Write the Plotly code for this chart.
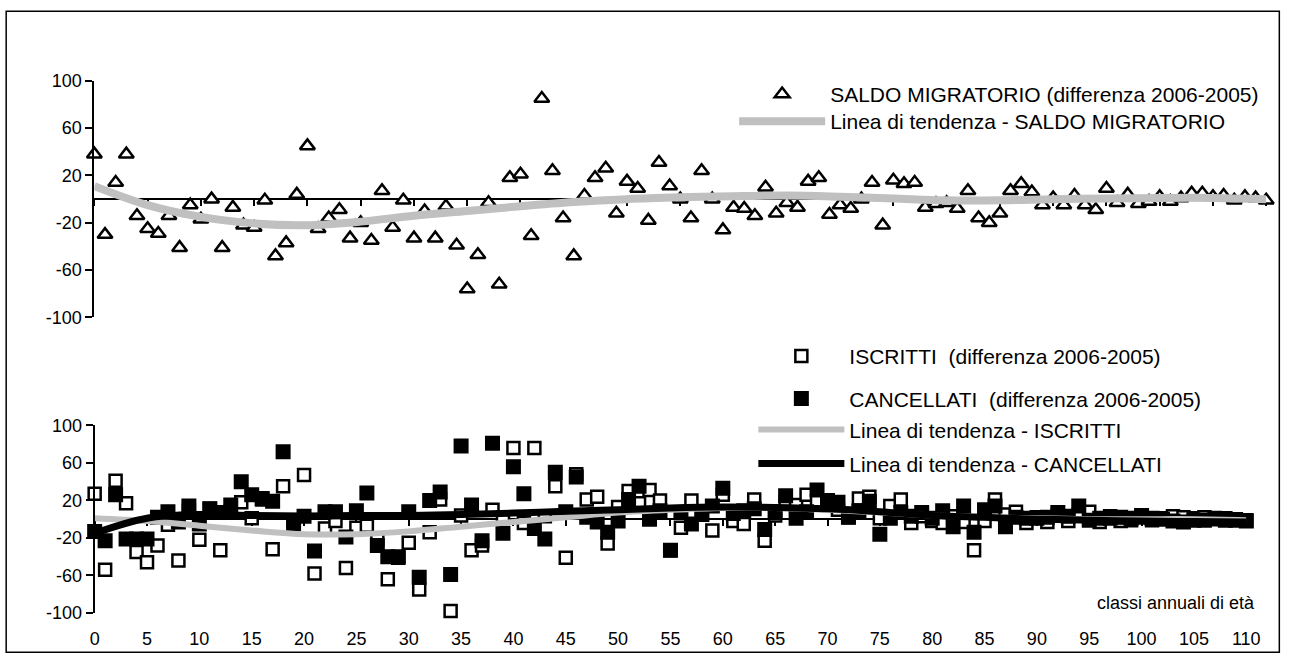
import plotly.graph_objects as go

# Figure fills the whole 1295 x 664 window (the plot div is pinned at 0,0).
W, H = 1295, 664

# ---------------- data ----------------
ages = list(range(0, 111))

saldo = [38, -30, 14, 38, -14, -25, -29, -14, -41, -5,
         -17, 0, -41, -7, -22, -24, -1, -48, -37, 4,
         45, -25, -16, -9, -33, -20, -35, 7, -24, -1,
         -33, -10, -33, -6, -39, -76, -47, -3, -72, 18,
         21, -31, 85, 24, -16, -48, 3, 18, 26, -12,
         15, 9, -18, 31, 11, 0, -16, 24, 0, -26,
         -7, -8, -14, 10, -12, -3, -7, 15, 18, -13,
         -5, -8, 0, 14, -22, 16, 13, 14, -7, -4,
         -3, -8, 7, -16, -20, -12, 7, 13, 6, -5,
         1, -5, 3, -5, -9, 9, -3, 4, -4, -2,
         2, -2, 1, 5, 5, 2, 3, -1, 2, 1,
         -1]

iscritti = [27, -54, 41, 17, -35, -46, -28, -6, -44, 9,
            -22, 11, -33, 8, 18, 1, 21, -32, 35, -1,
            47, -58, -10, -2, -52, -9, -7, -21, -64, -41,
            -25, -75, -14, 21, -98, 4, -33, -28, 10, 2,
            76, -4, 76, 3, 35, -41, 48, 21, 24, -26,
            13, 30, 17, 31, 20, -33, -9, 20, 5, -12,
            26, -2, -5, 21, -23, 4, 18, 15, 26, 19,
            15, 10, 2, 22, 24, 1, 14, 21, -4, 3,
            -2, -4, 3, -3, -33, -2, 21, 5, 8, -4,
            2, -3, 4, -2, 5, 8, -3, 3, -2, -1,
            2, -1, 1, 3, 2, 1, 2, 0, 1, 0,
            -1]

cancellati = [-13, -23, 26, -21, -21, -21, 2, 8, -3, 14,
              -5, 11, 7, 15, 40, 26, 22, 19, 72, -5,
              3, -34, 8, 8, -19, 9, 28, -28, -40, -40,
              8, -62, 20, 29, -59, 78, 15, -23, 81, -15,
              56, 27, -10, -21, 50, 8, 45, 2, -3, -14,
              -2, 21, 35, 0, 9, -33, 7, -5, 5, 14,
              33, 6, 9, 11, -11, 7, 25, 1, 8, 31,
              20, 18, 2, 9, 19, -16, 1, 7, 3, 7,
              1, 9, -8, 14, -14, 10, 14, -8, 2, 1,
              1, 2, 7, 3, 14, -1, 1, 1, 2, 1,
              4, 1, 0, -2, -3, -1, -1, 1, -1, -1,
              -2]

trend_x = list(range(0, 111, 5))
trend_saldo = [11, -5, -15, -20.5, -22, -19, -14, -10, -6, -2.5,
               0, 1.5, 2.5, 3, 2, 0.5, -1, -1, 0, 0.5,
               1, 1, 0]
trend_iscritti = [1, -2, -7, -12, -16, -16, -13, -8, -3, 2,
                  7, 10, 12, 12, 10, 7, 4, 2, 1, 0,
                  0, 0, -1]
trend_cancellati = [-15, 1, 5, 4, 3.5, 4, 4, 5, 6.5, 8.5,
                    10, 12, 13, 12.5, 11, 8, 4, 2, 0, -1,
                    -2, -2.5, -3]

yticks = [-100, -60, -20, 20, 60, 100]
xticks = list(range(0, 111, 5))

name_saldo = "SALDO MIGRATORIO (differenza 2006-2005)"
name_trend_saldo = "Linea di tendenza - SALDO MIGRATORIO"
name_iscritti = "ISCRITTI\u00a0 (differenza 2006-2005)"
name_cancellati = "CANCELLATI\u00a0 (differenza 2006-2005)"
name_trend_iscritti = "Linea di tendenza - ISCRITTI"
name_trend_cancellati = "Linea di tendenza - CANCELLATI"
x_title = "classi annuali di età"

# ---------------- layout helpers (window pixels -> paper) ----------------
def fx(p):
    return p / W

def fy(p):
    return 1 - p / H

FONT = "Liberation Sans, Arial, sans-serif"
GRAY = "#c0c0c0"

fig = go.Figure()

fig.add_trace(go.Scatter(
    x=ages, y=saldo, mode="markers", name=name_saldo,
    xaxis="x", yaxis="y", legend="legend", cliponaxis=False,
    marker=dict(symbol="triangle-up", size=13, color="white",
                line=dict(color="black", width=2.5))))
fig.add_trace(go.Scatter(
    x=trend_x, y=trend_saldo, mode="lines", name=name_trend_saldo,
    xaxis="x", yaxis="y", legend="legend2", cliponaxis=False,
    line=dict(color=GRAY, width=8, shape="spline", smoothing=1)))

fig.add_trace(go.Scatter(
    x=ages, y=iscritti, mode="markers", name=name_iscritti,
    xaxis="x2", yaxis="y2", legend="legend3", cliponaxis=False,
    marker=dict(symbol="square", size=12, color="white",
                line=dict(color="black", width=2.5))))
fig.add_trace(go.Scatter(
    x=ages, y=cancellati, mode="markers", name=name_cancellati,
    xaxis="x2", yaxis="y2", legend="legend4", cliponaxis=False,
    marker=dict(symbol="square", size=13, color="black",
                line=dict(color="black", width=2))))
fig.add_trace(go.Scatter(
    x=trend_x, y=trend_iscritti, mode="lines", name=name_trend_iscritti,
    xaxis="x2", yaxis="y2", legend="legend5", cliponaxis=False,
    line=dict(color=GRAY, width=6, shape="spline", smoothing=1)))
fig.add_trace(go.Scatter(
    x=trend_x, y=trend_cancellati, mode="lines", name=name_trend_cancellati,
    xaxis="x2", yaxis="y2", legend="legend6", cliponaxis=False,
    line=dict(color="black", width=7, shape="spline", smoothing=1)))

# top panel geometry
top_x_dom = [fx(90.7), fx(1280)]
top_y_dom = [fy(317), fy(73)]
top_zero = fy(195)
# bottom panel geometry
bot_x_dom = [fx(91), fx(1259.75)]
bot_y_dom = [fy(621.7), fy(428.3)]
bot_zero = fy(525)

axis_common = dict(showgrid=False, zeroline=False, linecolor="black",
                   tickcolor="black", tickfont=dict(family=FONT, size=18, color="black"))

legend_common = dict(bgcolor="rgba(0,0,0,0)", borderwidth=0, xanchor="left",
                     yanchor="middle", font=dict(family=FONT, size=21, color="black"))

fig.update_layout(
    autosize=True, margin=dict(l=0, r=0, t=0, b=0),
    paper_bgcolor="white", plot_bgcolor="rgba(0,0,0,0)",
    font=dict(family=FONT, color="black"),
    showlegend=True,
    xaxis=dict(domain=top_x_dom, range=[0, 110], anchor="free", position=top_zero,
               showline=True, linewidth=2, ticks="outside", ticklen=6, tickwidth=1.5,
               tickvals=xticks, showticklabels=False, layer="below traces",
               **axis_common),
    yaxis=dict(domain=top_y_dom, range=[-100, 100], anchor="x",
               showline=True, linewidth=2, ticks="outside", ticklen=7, tickwidth=2,
               tickvals=yticks, ticktext=[str(v) for v in yticks],
               **axis_common),
    xaxis2=dict(domain=bot_x_dom, range=[0, 110], anchor="free", position=bot_zero,
                showline=True, linewidth=2, ticks="outside", ticklen=6, tickwidth=1.5,
                tickvals=xticks, showticklabels=False, layer="below traces",
                **axis_common),
    xaxis3=dict(domain=bot_x_dom, range=[0, 110], anchor="y2", overlaying="x2",
                showline=False, ticks="outside", ticklen=9, tickcolor="rgba(0,0,0,0)",
                tickvals=xticks, ticktext=[str(v) for v in xticks],
                showgrid=False, zeroline=False,
                tickfont=dict(family=FONT, size=18, color="black")),
    yaxis2=dict(domain=bot_y_dom, range=[-100, 100], anchor="x2",
                showline=True, linewidth=2, ticks="outside", ticklen=7, tickwidth=2,
                tickvals=yticks, ticktext=[str(v) for v in yticks],
                **axis_common),
    legend=dict(x=fx(740), y=fy(87), itemwidth=86, **legend_common),
    legend2=dict(x=fx(740), y=fy(115), itemwidth=86, **legend_common),
    legend3=dict(x=fx(759.5), y=fy(357), itemwidth=86, **legend_common),
    legend4=dict(x=fx(759.5), y=fy(401), itemwidth=86, **legend_common),
    legend5=dict(x=fx(759.5), y=fy(433), itemwidth=86, **legend_common),
    legend6=dict(x=fx(759.5), y=fy(468), itemwidth=86, **legend_common),
)

# empty trace so the label-only axis is attached to the bottom panel
fig.add_trace(go.Scatter(x=[], y=[], xaxis="x3", yaxis="y2", showlegend=False,
                         hoverinfo="skip"))

fig.add_annotation(text=x_title, xref="paper", yref="paper",
                   x=fx(1271), y=fy(611), xanchor="right", yanchor="middle",
                   showarrow=False, font=dict(family=FONT, size=18, color="black"))

# outer chart border
fig.add_shape(type="rect", xref="paper", yref="paper",
              x0=fx(1.2), y0=fy(662.3), x1=fx(1293.3), y1=fy(1.2),
              line=dict(color="black", width=1.5), fillcolor="rgba(0,0,0,0)")

fig.write_html("out.html",
               config={"displayModeBar": False, "responsive": False},
               default_width="1295px",
               default_height="664px;position:fixed;left:0;top:0")
